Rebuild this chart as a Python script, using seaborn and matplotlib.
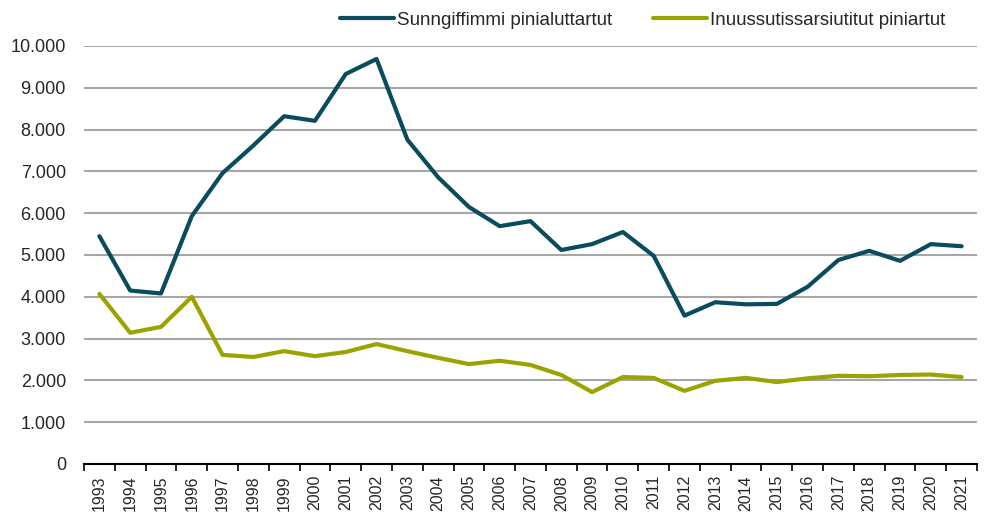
import numpy as np
import pandas as pd
import matplotlib
matplotlib.use("Agg")
import matplotlib.pyplot as plt
from matplotlib.ticker import FuncFormatter, FixedLocator
import seaborn as sns

years = list(range(1993, 2022))
sunngiffimmi = [5450, 4150, 4080, 5930, 6960, 7620, 8320, 8210, 9330, 9690,
                7760, 6860, 6150, 5690, 5810, 5120, 5260, 5550, 4980, 3550,
                3870, 3820, 3830, 4240, 4880, 5100, 4860, 5260, 5210]
inuussutissarsiutitut = [4070, 3140, 3280, 4000, 2610, 2560, 2700, 2580, 2680, 2870,
                         2700, 2540, 2390, 2470, 2370, 2130, 1720, 2080, 2060, 1750,
                         1990, 2060, 1960, 2050, 2110, 2100, 2130, 2140, 2080]
labels = ["Sunngiffimmi pinialuttartut", "Inuussutissarsiutitut piniartut"]
colors = ["#0B4B5E", "#9AA300"]

df = pd.DataFrame({"pos": list(range(len(years))) * 2,
                   "value": sunngiffimmi + inuussutissarsiutitut,
                   "serie": [labels[0]] * len(years) + [labels[1]] * len(years)})

sns.set_style("white")
plt.rcParams["font.family"] = ["Liberation Sans", "DejaVu Sans"]

fig = plt.figure(figsize=(9.84, 5.15), dpi=100)
ax = fig.add_axes([84 / 984, 51 / 515, 893 / 984, 418 / 515])

sns.lineplot(data=df, x="pos", y="value", hue="serie", palette=colors,
             linewidth=3, ax=ax, legend=True)

ax.set_xlim(-0.5, len(years) - 0.5)
ax.set_ylim(0, 10000)
ax.set_yticks(np.arange(0, 10001, 1000))
ax.yaxis.set_major_formatter(FuncFormatter(lambda v, p: f"{int(v):,}".replace(",", ".")))
ax.grid(axis="y", color="#A6A6A6", linewidth=1.5)
ax.set_axisbelow(True)

ax.set_xticks(range(len(years)))
ax.set_xticklabels([str(y) for y in years], rotation=90)
ax.xaxis.set_minor_locator(FixedLocator(np.arange(-0.5, len(years), 1)))
ax.tick_params(axis="x", which="major", length=0, pad=8, labelsize=11.5)
ax.tick_params(axis="x", which="minor", length=5, width=1.2, color="black", direction="out", bottom=True)
ax.tick_params(axis="y", length=0, pad=13, labelsize=13)

for s in ["left", "right", "top"]:
    ax.spines[s].set_visible(False)
ax.spines["bottom"].set_color("black")
ax.spines["bottom"].set_linewidth(1.5)
ax.set_xlabel("")
ax.set_ylabel("")

ax.legend(loc="center", bbox_to_anchor=(0.653, 0.961), bbox_transform=fig.transFigure,
          ncol=2, frameon=False, fontsize=13.5, handlelength=2.9, handletextpad=0.15,
          columnspacing=2.2)

fig.savefig("out.png", dpi=100)
